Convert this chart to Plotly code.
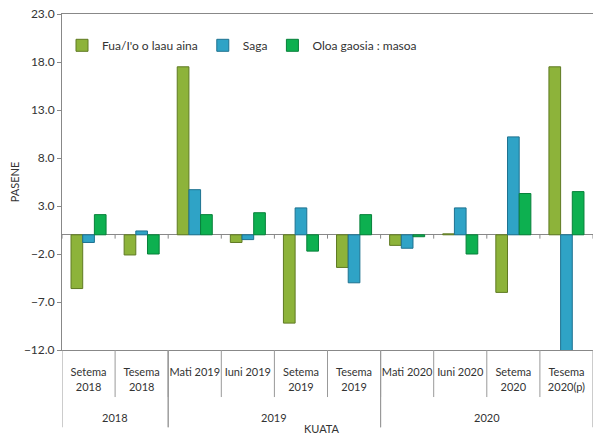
import plotly.graph_objects as go

years = ['2018', '2018', '2019', '2019', '2019', '2019', '2020', '2020', '2020', '2020']
quarters = ['Setema<br>2018', 'Tesema<br>2018', 'Mati 2019', 'Iuni 2019', 'Setema<br>2019',
            'Tesema<br>2019', 'Mati 2020', 'Iuni 2020', 'Setema<br>2020', 'Tesema<br>2020(p)']

fua = [-5.6, -2.1, 17.5, -0.8, -9.2, -3.4, -1.1, 0.1, -6.0, 17.5]
saga = [-0.8, 0.4, 4.7, -0.5, 2.8, -5.0, -1.4, 2.8, 10.2, -12.5]
oloa = [2.1, -2.0, 2.1, 2.3, -1.7, 2.1, -0.2, -2.0, 4.3, 4.5]

font = "Lato, sans-serif"
line_col = '#999999'

fig = go.Figure()
fig.add_trace(go.Bar(x=quarters, y=fua, name="Fua/I'o o laau aina",
                     marker=dict(color='#8DB33A', line=dict(color='#5F7A22', width=1))))
fig.add_trace(go.Bar(x=quarters, y=saga, name='Saga',
                     marker=dict(color='#2FA3C6', line=dict(color='#1E7290', width=1))))
fig.add_trace(go.Bar(x=quarters, y=oloa, name='Oloa gaosia : masoa',
                     marker=dict(color='#0DB050', line=dict(color='#07803A', width=1))))

fig.update_layout(
    width=593, height=437,
    margin=dict(l=62, r=0, t=14, b=87),
    plot_bgcolor='white', paper_bgcolor='white',
    barmode='group', bargap=0.34, bargroupgap=0,
    font=dict(family=font, size=12, color='#333333'),
    legend=dict(orientation='h', x=0.0, y=0.95, xanchor='left', yanchor='top',
                bgcolor='rgba(0,0,0,0)', font=dict(size=12), itemwidth=30,
                tracegroupgap=0),
    showlegend=True,
)
fig.update_yaxes(range=[-12, 23], dtick=5, tick0=-12, tickformat='.1f', automargin=False,
                 showgrid=False, zeroline=True, zerolinecolor='#888888', zerolinewidth=1,
                 showline=True, linecolor='#888888', mirror=False,
                 ticks='outside', ticklen=4, tickcolor='#888888',
                 title=dict(text='PASENE', font=dict(size=11), standoff=2))
fig.update_xaxes(type='category', range=[-0.5, len(quarters) - 0.5], showgrid=False,
                 showline=True, linecolor='#888888', mirror=True, ticks='', tickangle=0,
                 tickfont=dict(size=11), ticklabelstandoff=12, automargin=False)

# category boundaries: inner dividers, tick marks on the zero line
for i in range(1, len(quarters)):
    fig.add_shape(type='line', xref='x', yref='paper', x0=i - 0.5, x1=i - 0.5,
                  y0=0, y1=-0.14, line=dict(color=line_col, width=1))
for i in range(len(quarters) + 1):
    fig.add_shape(type='line', xref='x', yref='y', x0=i - 0.5, x1=i - 0.5,
                  y0=0, y1=-0.4, line=dict(color='#888888', width=1))

# year groups
groups = []
for i, yr in enumerate(years):
    if groups and groups[-1][0] == yr:
        groups[-1][2] = i
    else:
        groups.append([yr, i, i])
for yr, a, b in groups:
    fig.add_annotation(text=yr, xref='x', yref='paper', x=(a + b) / 2, y=-0.2,
                       showarrow=False, font=dict(size=11), yanchor='middle')
    for edge in (a - 0.5, b + 0.5):
        fig.add_shape(type='line', xref='x', yref='paper', x0=edge, x1=edge,
                      y0=0, y1=-0.23, line=dict(color=line_col, width=1))

fig.add_annotation(text='KUATA', xref='paper', yref='paper', x=0.49, y=-0.235,
                   showarrow=False, font=dict(size=11), yanchor='middle')

fig.write_html("out.html", post_script="document.body.style.margin='0';",
               config={'displayModeBar': False})
